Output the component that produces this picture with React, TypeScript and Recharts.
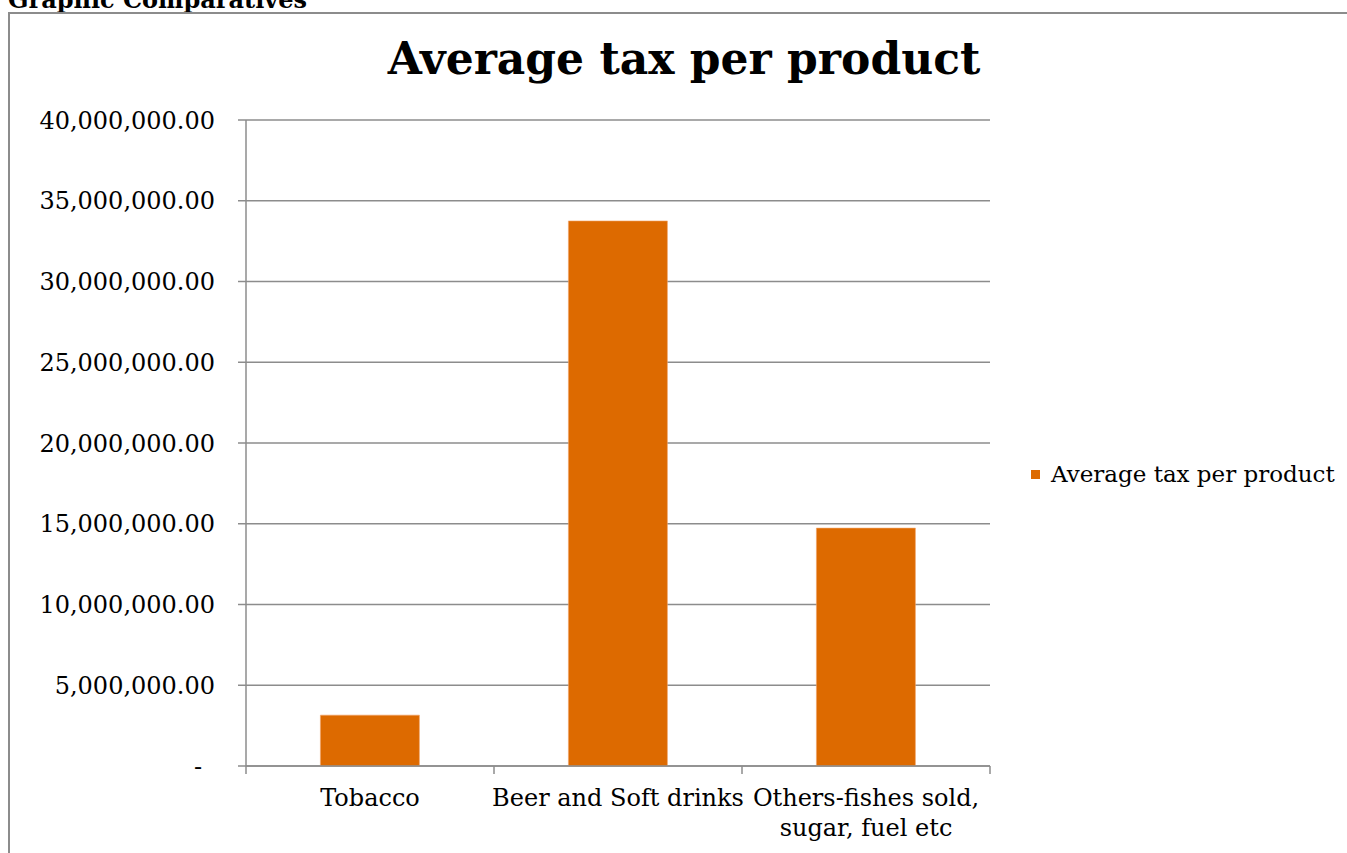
import { Bar, BarChart, CartesianGrid, Legend, XAxis, YAxis } from "recharts"

// Average excise collected per product group
const categories = ["Tobacco", "Beer and Soft drinks", "Others-fishes sold,\nsugar, fuel etc"]
const averageTax = [3150000, 33750000, 14730000]
const yTicks = [0, 5000000, 10000000, 15000000, 20000000, 25000000, 30000000, 35000000, 40000000]

const SERIES_NAME = "Average tax per product"
const ORANGE = "#DD6A00"
const GRID = "#8c8c8c"
const FONT = "'DejaVu Serif', Georgia, serif"
const TICK = 8

const data = categories.map((name, i) => ({ name, value: averageTax[i] }))

const formatMoney = (v: number) =>
  v.toLocaleString("en-US", { minimumFractionDigits: 2, maximumFractionDigits: 2 })

function YTick({ x, y, payload }: any) {
  const v = payload.value as number
  // accounting format shows a dash for zero, padded in from the right
  return (
    <text x={v === 0 ? x - 13 : x} y={y} dy="0.355em" textAnchor="end" fontSize={24} fill="#000" fontFamily={FONT}>
      {v === 0 ? "-" : formatMoney(v)}
    </text>
  )
}

// category label plus tick marks on the band edges (Excel style)
function XTick({ x, y, payload, index, visibleTicksCount }: any) {
  const lines = String(payload.value).split("\n")
  const half = payload.offset || 0
  const axisY = y - TICK - 2
  const edges = [x - half]
  if (index === visibleTicksCount - 1) edges.push(x + half)
  return (
    <g>
      {edges.map((ex, i) => (
        <line key={i} x1={ex} x2={ex} y1={axisY} y2={axisY + TICK} stroke={GRID} strokeWidth={1.5} />
      ))}
      <text x={x} y={y} textAnchor="middle" fontSize={24} fill="#000" fontFamily={FONT}>
        {lines.map((line, i) => (
          <tspan key={i} x={x} dy={30}>
            {line}
          </tspan>
        ))}
      </text>
    </g>
  )
}

function LegendContent() {
  return (
    <div style={{ display: "flex", alignItems: "center", fontFamily: FONT, fontSize: 23, color: "#000", whiteSpace: "nowrap" }}>
      <span style={{ width: 9, height: 9, background: ORANGE, display: "inline-block", marginRight: 11 }} />
      <span>{SERIES_NAME}</span>
    </div>
  )
}

export default function App() {
  return (
    <div style={{ position: "absolute", left: 0, top: 0, width: 1347, height: 853, overflow: "hidden", background: "#fff" }}>
      <div
        style={{
          position: "absolute",
          left: 8,
          top: -15,
          fontFamily: FONT,
          fontWeight: "bold",
          fontSize: 24,
          color: "#000",
          whiteSpace: "nowrap",
        }}
      >
        Graphic Comparatives
      </div>
      <div
        style={{
          position: "absolute",
          left: 8,
          top: 12,
          width: 1360,
          height: 860,
          borderLeft: `2px solid ${GRID}`,
          borderTop: `2px solid ${GRID}`,
          boxSizing: "border-box",
        }}
      />
      <div
        style={{
          position: "absolute",
          left: 384,
          width: 600,
          top: 33,
          textAlign: "center",
          fontFamily: FONT,
          fontWeight: "bold",
          fontSize: 44,
          color: "#000",
          whiteSpace: "nowrap",
        }}
      >
        {SERIES_NAME}
      </div>
      <div style={{ position: "absolute", left: 8, top: 12 }}>
        <BarChart width={1339} height={841} data={data} margin={{ top: 108, right: 37, bottom: 27, left: 0 }} barCategoryGap="30%">
          <CartesianGrid vertical={false} stroke={GRID} strokeWidth={1.5} />
          <XAxis
            dataKey="name"
            interval={0}
            height={60}
            tickLine={false}
            tickSize={TICK}
            axisLine={{ stroke: GRID, strokeWidth: 1.5 }}
            tick={<XTick />}
          />
          <YAxis
            width={238}
            domain={[0, 40000000]}
            ticks={yTicks}
            interval={0}
            tickSize={TICK}
            tickMargin={23}
            tickLine={{ stroke: GRID, strokeWidth: 1.5 }}
            axisLine={{ stroke: GRID, strokeWidth: 1.5 }}
            tick={<YTick />}
          />
          <Legend
            layout="vertical"
            align="right"
            verticalAlign="middle"
            content={<LegendContent />}
            wrapperStyle={{ left: 1023, width: 320, top: 449 }}
          />
          <Bar dataKey="value" name={SERIES_NAME} fill={ORANGE} stroke="#f2a56a" strokeWidth={0.6} isAnimationActive={false} />
        </BarChart>
      </div>
    </div>
  )
}
